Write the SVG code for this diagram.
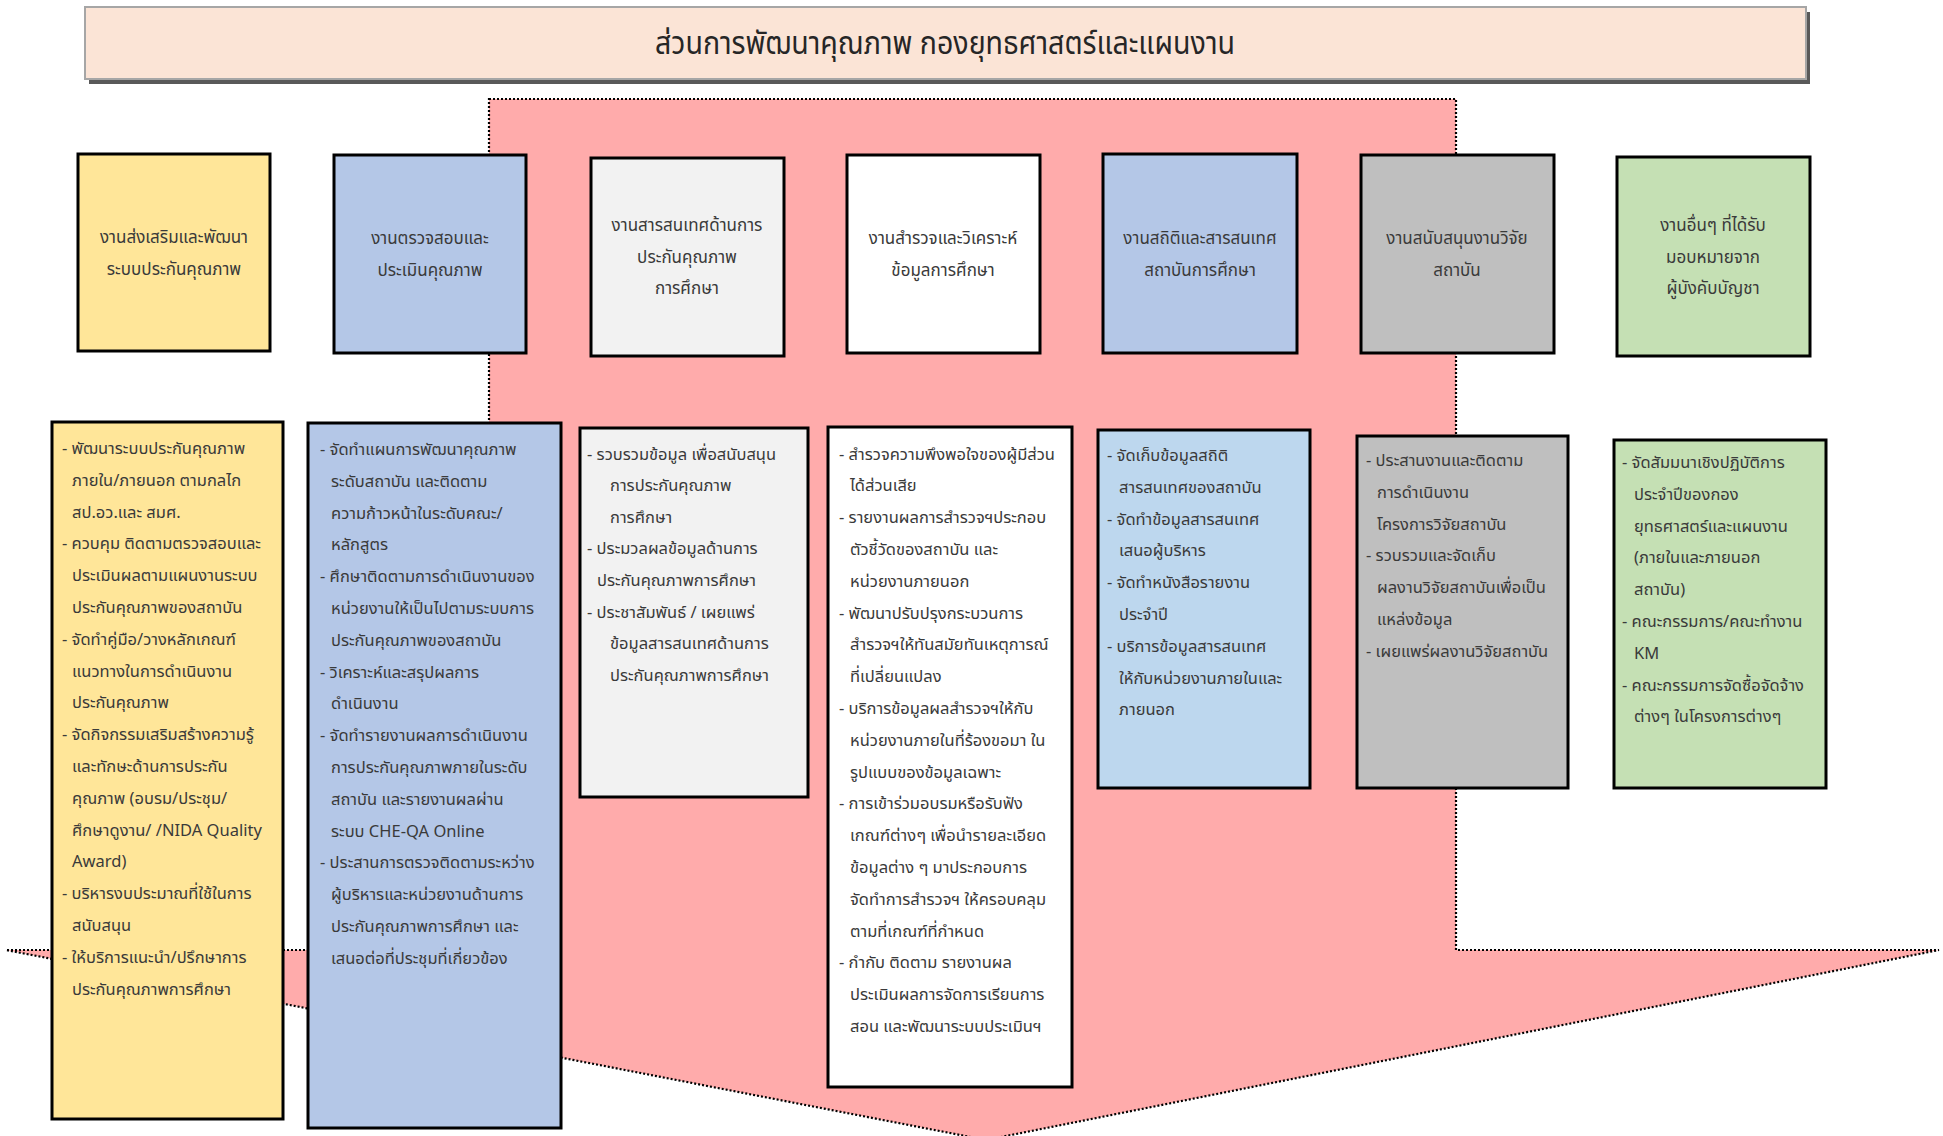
<svg xmlns="http://www.w3.org/2000/svg" width="1943" height="1136" viewBox="0 0 1943 1136">
<style>
  text { font-family: "Noto Sans Thai", "Leelawadee UI", Tahoma, "Noto Sans", "DejaVu Sans", sans-serif; fill: #3a3a3a; }
  .h { font-size: 17px; text-anchor: middle; }
  .d { font-size: 16.5px; }
  .n { font-size: 16.5px; }
  .box { stroke: #000000; stroke-width: 3; }
  .title { font-size: 32px; text-anchor: middle; fill: #262626; }
</style>
<rect width="1943" height="1136" fill="#ffffff"/>

<g id="flow-arrow">
  <polygon points="489,99 1456,99 1456,950 1939,950 986,1140 6,950 489,950" fill="#ffabab" stroke="#000000" stroke-width="2.2" stroke-dasharray="2 2"/>
</g>

<g id="title">
  <rect x="89" y="12" width="1721" height="72" fill="#595959"/>
  <rect x="85" y="7" width="1721" height="72" fill="#fbe4d6" stroke="#a6a6a6" stroke-width="2"/>
  <text class="title" x="945" y="54" textLength="580" lengthAdjust="spacingAndGlyphs">ส่วนการพัฒนาคุณภาพ กองยุทธศาสตร์และแผนงาน</text>
</g>

<g id="unit-1">
  <rect class="box" x="78" y="154" width="192" height="197" fill="#ffe699"/>
  <text class="h" x="174" y="243">งานส่งเสริมและพัฒนา</text>
  <text class="h" x="174" y="275">ระบบประกันคุณภาพ</text>
</g>
<g id="unit-2">
  <rect class="box" x="334" y="155" width="192" height="198" fill="#b4c7e7"/>
  <text class="h" x="430" y="244">งานตรวจสอบและ</text>
  <text class="h" x="430" y="276">ประเมินคุณภาพ</text>
</g>
<g id="unit-3">
  <rect class="box" x="591" y="158" width="193" height="198" fill="#f2f2f2"/>
  <text class="h" x="687" y="231">งานสารสนเทศด้านการ</text>
  <text class="h" x="687" y="263">ประกันคุณภาพ</text>
  <text class="h" x="687" y="294">การศึกษา</text>
</g>
<g id="unit-4">
  <rect class="box" x="847" y="155" width="193" height="198" fill="#ffffff"/>
  <text class="h" x="943" y="244">งานสำรวจและวิเคราะห์</text>
  <text class="h" x="943" y="276">ข้อมูลการศึกษา</text>
</g>
<g id="unit-5">
  <rect class="box" x="1103" y="154" width="194" height="199" fill="#b4c7e7"/>
  <text class="h" x="1200" y="244">งานสถิติและสารสนเทศ</text>
  <text class="h" x="1200" y="276">สถาบันการศึกษา</text>
</g>
<g id="unit-6">
  <rect class="box" x="1361" y="155" width="193" height="198" fill="#bfbfbf"/>
  <text class="h" x="1457" y="244">งานสนับสนุนงานวิจัย</text>
  <text class="h" x="1457" y="276">สถาบัน</text>
</g>
<g id="unit-7">
  <rect class="box" x="1617" y="157" width="193" height="199" fill="#c5e0b4"/>
  <text class="h" x="1713" y="231">งานอื่นๆ ที่ได้รับ</text>
  <text class="h" x="1713" y="263">มอบหมายจาก</text>
  <text class="h" x="1713" y="294">ผู้บังคับบัญชา</text>
</g>

<g id="detail-1">
  <rect class="box" x="52" y="422" width="231" height="697" fill="#ffe699"/>
  <text class="d" x="62" y="454">- พัฒนาระบบประกันคุณภาพ</text>
  <text class="d" x="72" y="486">ภายใน/ภายนอก ตามกลไก</text>
  <text class="d" x="72" y="518">สป.อว.และ สมศ.</text>
  <text class="d" x="62" y="549">- ควบคุม ติดตามตรวจสอบและ</text>
  <text class="d" x="72" y="581">ประเมินผลตามแผนงานระบบ</text>
  <text class="d" x="72" y="613">ประกันคุณภาพของสถาบัน</text>
  <text class="d" x="62" y="645">- จัดทำคู่มือ/วางหลักเกณฑ์</text>
  <text class="d" x="72" y="677">แนวทางในการดำเนินงาน</text>
  <text class="d" x="72" y="708">ประกันคุณภาพ</text>
  <text class="d" x="62" y="740">- จัดกิจกรรมเสริมสร้างความรู้</text>
  <text class="d" x="72" y="772">และทักษะด้านการประกัน</text>
  <text class="d" x="72" y="804">คุณภาพ (อบรม/ประชุม/</text>
  <text class="d" x="72" y="836">ศึกษาดูงาน/ /NIDA Quality</text>
  <text class="d" x="72" y="867">Award)</text>
  <text class="d" x="62" y="899">- บริหารงบประมาณที่ใช้ในการ</text>
  <text class="d" x="72" y="931">สนับสนุน</text>
  <text class="d" x="62" y="963">- ให้บริการแนะนำ/ปรึกษาการ</text>
  <text class="d" x="72" y="995">ประกันคุณภาพการศึกษา</text>
</g>

<g id="detail-2">
  <rect class="box" x="308" y="423" width="253" height="705" fill="#b4c7e7"/>
  <text class="d" x="320" y="455">- จัดทำแผนการพัฒนาคุณภาพ</text>
  <text class="d" x="331" y="487">ระดับสถาบัน และติดตาม</text>
  <text class="d" x="331" y="519">ความก้าวหน้าในระดับคณะ/</text>
  <text class="d" x="331" y="550">หลักสูตร</text>
  <text class="d" x="320" y="582">- ศึกษาติดตามการดำเนินงานของ</text>
  <text class="d" x="331" y="614">หน่วยงานให้เป็นไปตามระบบการ</text>
  <text class="d" x="331" y="646">ประกันคุณภาพของสถาบัน</text>
  <text class="d" x="320" y="678">- วิเคราะห์และสรุปผลการ</text>
  <text class="d" x="331" y="709">ดำเนินงาน</text>
  <text class="d" x="320" y="741">- จัดทำรายงานผลการดำเนินงาน</text>
  <text class="d" x="331" y="773">การประกันคุณภาพภายในระดับ</text>
  <text class="d" x="331" y="805">สถาบัน และรายงานผลผ่าน</text>
  <text class="d" x="331" y="837">ระบบ CHE-QA Online</text>
  <text class="d" x="320" y="868">- ประสานการตรวจติดตามระหว่าง</text>
  <text class="d" x="331" y="900">ผู้บริหารและหน่วยงานด้านการ</text>
  <text class="d" x="331" y="932">ประกันคุณภาพการศึกษา และ</text>
  <text class="d" x="331" y="964">เสนอต่อที่ประชุมที่เกี่ยวข้อง</text>
</g>

<g id="detail-3">
  <rect class="box" x="580" y="428" width="228" height="369" fill="#f2f2f2"/>
  <text class="d" x="587" y="460">- รวบรวมข้อมูล เพื่อสนับสนุน</text>
  <text class="d" x="610" y="491">การประกันคุณภาพ</text>
  <text class="d" x="610" y="523">การศึกษา</text>
  <text class="d" x="587" y="554">- ประมวลผลข้อมูลด้านการ</text>
  <text class="d" x="597" y="586">ประกันคุณภาพการศึกษา</text>
  <text class="d" x="587" y="618">- ประชาสัมพันธ์ / เผยแพร่</text>
  <text class="d" x="610" y="649">ข้อมูลสารสนเทศด้านการ</text>
  <text class="d" x="610" y="681">ประกันคุณภาพการศึกษา</text>
</g>

<g id="detail-4">
  <rect class="box" x="828" y="427" width="244" height="660" fill="#ffffff"/>
  <text class="d" x="839" y="460">- สำรวจความพึงพอใจของผู้มีส่วน</text>
  <text class="d" x="850" y="491">ได้ส่วนเสีย</text>
  <text class="d" x="839" y="523">- รายงานผลการสำรวจฯประกอบ</text>
  <text class="d" x="850" y="555">ตัวชี้วัดของสถาบัน และ</text>
  <text class="d" x="850" y="587">หน่วยงานภายนอก</text>
  <text class="d" x="839" y="619">- พัฒนาปรับปรุงกระบวนการ</text>
  <text class="d" x="850" y="650">สำรวจฯให้ทันสมัยทันเหตุการณ์</text>
  <text class="d" x="850" y="682">ที่เปลี่ยนแปลง</text>
  <text class="d" x="839" y="714">- บริการข้อมูลผลสำรวจฯให้กับ</text>
  <text class="d" x="850" y="746">หน่วยงานภายในที่ร้องขอมา ใน</text>
  <text class="d" x="850" y="778">รูปแบบของข้อมูลเฉพาะ</text>
  <text class="d" x="839" y="809">- การเข้าร่วมอบรมหรือรับฟัง</text>
  <text class="d" x="850" y="841">เกณฑ์ต่างๆ เพื่อนำรายละเอียด</text>
  <text class="d" x="850" y="873">ข้อมูลต่าง ๆ มาประกอบการ</text>
  <text class="d" x="850" y="905">จัดทำการสำรวจฯ ให้ครอบคลุม</text>
  <text class="d" x="850" y="937">ตามที่เกณฑ์ที่กำหนด</text>
  <text class="d" x="839" y="968">- กำกับ ติดตาม รายงานผล</text>
  <text class="d" x="850" y="1000">ประเมินผลการจัดการเรียนการ</text>
  <text class="d" x="850" y="1032">สอน และพัฒนาระบบประเมินฯ</text>
</g>

<g id="detail-5">
  <rect class="box" x="1098" y="430" width="212" height="358" fill="#bdd7ee"/>
  <text class="n" x="1107" y="461">- จัดเก็บข้อมูลสถิติ</text>
  <text class="n" x="1119" y="493">สารสนเทศของสถาบัน</text>
  <text class="n" x="1107" y="525">- จัดทำข้อมูลสารสนเทศ</text>
  <text class="n" x="1119" y="556">เสนอผู้บริหาร</text>
  <text class="n" x="1107" y="588">- จัดทำหนังสือรายงาน</text>
  <text class="n" x="1119" y="620">ประจำปี</text>
  <text class="n" x="1107" y="652">- บริการข้อมูลสารสนเทศ</text>
  <text class="n" x="1119" y="684">ให้กับหน่วยงานภายในและ</text>
  <text class="n" x="1119" y="715">ภายนอก</text>
</g>

<g id="detail-6">
  <rect class="box" x="1357" y="436" width="211" height="352" fill="#bfbfbf"/>
  <text class="n" x="1366" y="466">- ประสานงานและติดตาม</text>
  <text class="n" x="1377" y="498">การดำเนินงาน</text>
  <text class="n" x="1377" y="530">โครงการวิจัยสถาบัน</text>
  <text class="n" x="1366" y="561">- รวบรวมและจัดเก็บ</text>
  <text class="n" x="1377" y="593">ผลงานวิจัยสถาบันเพื่อเป็น</text>
  <text class="n" x="1377" y="625">แหล่งข้อมูล</text>
  <text class="n" x="1366" y="657">- เผยแพร่ผลงานวิจัยสถาบัน</text>
</g>

<g id="detail-7">
  <rect class="box" x="1614" y="440" width="212" height="348" fill="#c5e0b4"/>
  <text class="n" x="1622" y="468">- จัดสัมมนาเชิงปฏิบัติการ</text>
  <text class="n" x="1634" y="500">ประจำปีของกอง</text>
  <text class="n" x="1634" y="532">ยุทธศาสตร์และแผนงาน</text>
  <text class="n" x="1634" y="563">(ภายในและภายนอก</text>
  <text class="n" x="1634" y="595">สถาบัน)</text>
  <text class="n" x="1622" y="627">- คณะกรรมการ/คณะทำงาน</text>
  <text class="n" x="1634" y="659">KM</text>
  <text class="n" x="1622" y="691">- คณะกรรมการจัดซื้อจัดจ้าง</text>
  <text class="n" x="1634" y="722">ต่างๆ ในโครงการต่างๆ</text>
</g>

<g id="connectors"/>
</svg>
